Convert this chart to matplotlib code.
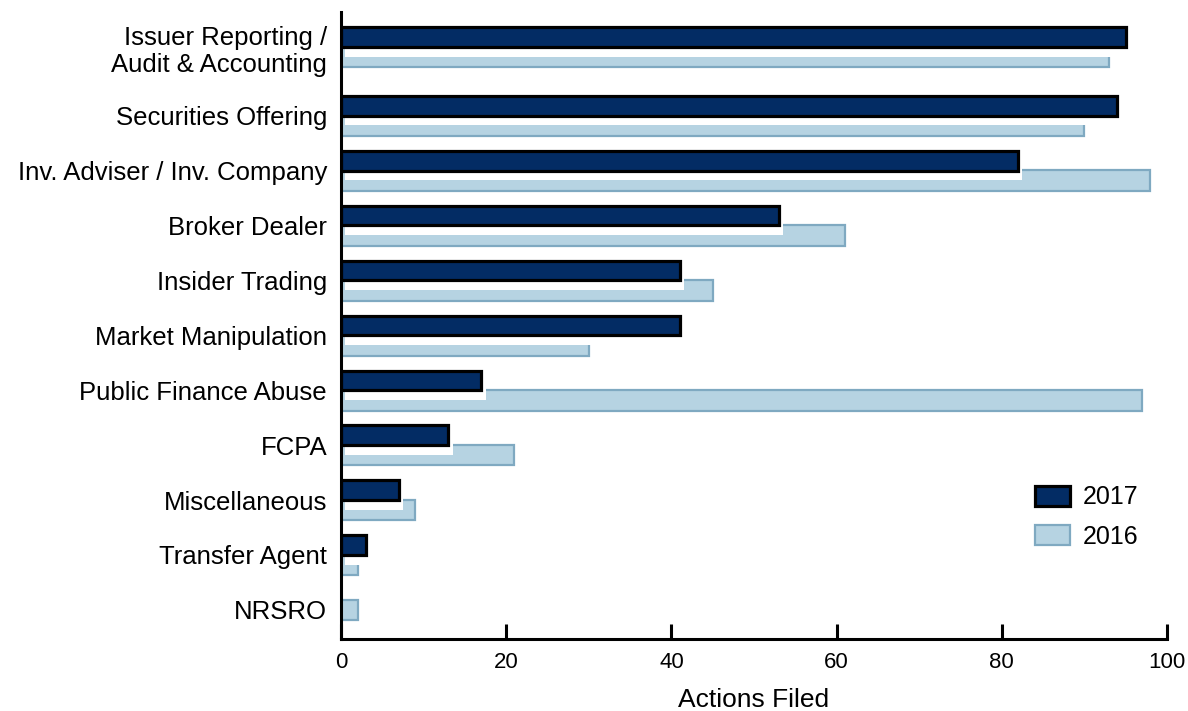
import matplotlib
matplotlib.use("Agg")
import matplotlib.pyplot as plt
import matplotlib.patheffects as pe
import numpy as np

categories = [
    "Issuer Reporting /\nAudit & Accounting",
    "Securities Offering",
    "Inv. Adviser / Inv. Company",
    "Broker Dealer",
    "Insider Trading",
    "Market Manipulation",
    "Public Finance Abuse",
    "FCPA",
    "Miscellaneous",
    "Transfer Agent",
    "NRSRO",
]
values_2017 = [95, 94, 82, 53, 41, 41, 17, 13, 7, 3, None]
values_2016 = [93, 90, 98, 61, 45, 30, 97, 21, 9, 2, 2]
xticks = [0, 20, 40, 60, 80, 100]

plt.rcParams['font.family'] = ['Liberation Sans', 'DejaVu Sans']

DPI = 100
fig = plt.figure(figsize=(11.88, 7.11), dpi=DPI)
ax = fig.add_axes([341/1188, 1 - 639/711, (1167-341)/1188, (639-12)/711])

n = len(categories)
# each category band grows with the number of lines in its label
bands = [1 + 0.5 * (c.count('\n')) for c in categories]
y = [0.0]
for i in range(1, n):
    y.append(y[-1] + (bands[i-1] + bands[i]) / 2)
y = np.array(y)

h17 = 0.358
h16 = 0.376
off = 0.181

c17 = '#032c64'
c16 = '#b6d3e2'
e16 = '#7fa9c1'

for i in range(n):
    v16 = values_2016[i]
    v17 = values_2017[i]
    if v16 is not None:
        pos = y[i] + (off if v17 is not None else 0)
        ax.barh(pos, v16, height=h16, color=c16, edgecolor=e16, linewidth=1.6,
                zorder=1, label='2016' if i == 0 else None)
for i in range(n):
    v16 = values_2016[i]
    v17 = values_2017[i]
    if v17 is not None:
        pos = y[i] - (off if v16 is not None else 0)
        ax.barh(pos, v17, height=h17, color=c17, edgecolor='black', linewidth=2.3,
                zorder=2, label='2017' if i == 0 else None,
                path_effects=[pe.SimplePatchShadow(offset=(3, -7), shadow_rgbFace='white', alpha=1.0),
                              pe.Normal()])

ax.set_xlim(0, 100)
ax.set_ylim(y[-1] + 0.53, -0.64)
ax.set_yticks(y)
ax.set_yticklabels(categories, fontsize=18.5, linespacing=1.18)
ax.set_xticks(xticks)
ax.set_xticklabels([str(t) for t in xticks], fontsize=16)
ax.tick_params(axis='y', length=0, pad=10)
ax.tick_params(axis='x', direction='in', length=10.8, width=2.2, pad=9, color='black')
for s in ['top', 'right']:
    ax.spines[s].set_visible(False)
for s in ['left', 'bottom']:
    ax.spines[s].set_linewidth(2.2)
    ax.spines[s].set_zorder(3)
ax.set_xlabel('Actions Filed', fontsize=19, labelpad=11)

handles, labels = ax.get_legend_handles_labels()
order = [labels.index('2017'), labels.index('2016')]
leg = ax.legend([handles[k] for k in order], [labels[k] for k in order],
                loc='center left', bbox_to_anchor=((1035-341)/826, (639-517)/627),
                frameon=False, fontsize=18, handlelength=1.4, handleheight=0.84,
                handletextpad=0.5, labelspacing=0.6, borderpad=0, borderaxespad=0)

fig.savefig('out.png', dpi=DPI)
